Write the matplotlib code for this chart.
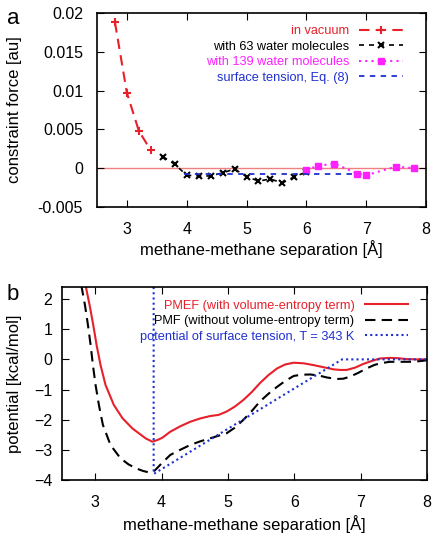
import numpy as np
import matplotlib
matplotlib.use("Agg")
import matplotlib.pyplot as plt

plt.rcParams['font.family'] = ['Liberation Sans', 'DejaVu Sans']

## panel a : constraint forces
vac_x = [2.8, 3.0, 3.2, 3.4]
vac_y = [0.0188, 0.0097, 0.0048, 0.0023]

w63_x = [3.6, 3.8, 4.0, 4.2, 4.4, 4.6, 4.8, 5.0, 5.2, 5.4, 5.6, 5.8, 6.0]
w63_y = [0.0015, 0.0005, -0.0009, -0.001, -0.001, -0.0006, -0.0001, -0.0011,
         -0.00165, -0.0014, -0.0019, -0.0011, -0.0005]

w139_x = [6.0, 6.2, 6.47, 6.85, 7.0, 7.5, 7.8]
w139_y = [-0.0002, 0.0003, 0.0006, -0.0007, -0.0009, 0.0002, 0.0]

surf_x = [3.95, 6.85]
surf_y = [-0.0008, -0.0008]

## panel b : potentials
pmef_x = [2.854, 2.915, 2.97, 3.02, 3.08, 3.155, 3.28, 3.41, 3.56, 3.76, 3.86, 3.93,
          4.01, 4.13, 4.28, 4.43, 4.58, 4.73, 4.86, 4.98, 5.1, 5.23, 5.36, 5.48, 5.61,
          5.74, 5.86, 5.99, 6.14, 6.29, 6.44, 6.59, 6.69, 6.79, 6.92, 7.04, 7.17, 7.29,
          7.44, 7.56, 7.69, 7.85, 8.0]
pmef_y = [2.46, 1.80, 1.14, 0.48, -0.19, -0.85, -1.51, -1.95, -2.29, -2.62, -2.73, -2.68,
          -2.6, -2.40, -2.22, -2.07, -1.96, -1.88, -1.84, -1.73, -1.57, -1.35, -1.08, -0.79, -0.52,
          -0.30, -0.17, -0.11, -0.13, -0.19, -0.26, -0.33, -0.35, -0.35, -0.27, -0.15, -0.05, 0.03,
          0.05, 0.04, 0.01, 0.0, 0.0]

pmf_x = [2.79, 2.845, 2.89, 2.93, 2.965, 3.005, 3.055, 3.115, 3.23, 3.38, 3.5, 3.61, 3.72,
         3.83, 3.9, 4.0, 4.13, 4.28, 4.43, 4.58, 4.73, 4.86, 4.98, 5.1, 5.23, 5.36, 5.48,
         5.61, 5.74, 5.86, 5.99, 6.1, 6.24, 6.38, 6.49, 6.64, 6.74, 6.84, 6.96, 7.09, 7.2,
         7.29, 7.44, 7.6, 7.74, 7.88, 8.0]
pmf_y = [2.46, 1.80, 1.14, 0.48, -0.19, -0.85, -1.51, -2.17, -2.84, -3.28, -3.48, -3.61, -3.7,
         -3.76, -3.68, -3.45, -3.17, -3.0, -2.84, -2.72, -2.62, -2.53, -2.45, -2.27, -2.01, -1.71, -1.40,
         -1.14, -0.91, -0.72, -0.55, -0.51, -0.5, -0.54, -0.6, -0.65, -0.64, -0.57, -0.45, -0.30, -0.19,
         -0.13, -0.08, -0.08, -0.08, -0.06, -0.03]

st_x = [3.88, 3.88, 6.72, 8.0]
st_y = [2.4, -3.8, 0.0, 0.0]

fig = plt.figure(figsize=(4.34, 5.36), dpi=100)

def style_ax(ax, ypad):
    ax.tick_params(direction='in', top=True, right=True, length=5, labelsize=11.5)
    ax.tick_params(axis='x', pad=10.5)
    ax.tick_params(axis='y', pad=ypad)
    for s in ax.spines.values():
        s.set_linewidth(1.2)

##---------------- panel a
ax1 = fig.add_axes([0.2235, 0.6138, 0.758, 0.362])
ax1.axhline(0, color='#f08080', lw=1.0, zorder=1)
ax1.plot(vac_x, vac_y, color='#e8202a', ls=(0, (5, 3)), lw=1.5, marker='+', ms=6, mew=1.5,
         label='in vacuum')
ax1.plot(w63_x, w63_y, color='black', ls=(0, (3, 3)), lw=1.2, marker='x', ms=5, mew=1.5,
         label='with 63 water molecules')
ax1.plot(w139_x, w139_y, color='#ff20ff', ls=(0, (1, 2)), lw=1.5, marker='s', ms=5,
         label='with 139 water molecules')
ax1.plot(surf_x, surf_y, color='#2030d0', ls=(0, (3, 3)), lw=1.3,
         label='surface tension, Eq. (8)')
ax1.set_xlim(2.5, 8)
ax1.set_ylim(-0.005, 0.02)
ax1.set_xticks([3, 4, 5, 6, 7, 8])
ax1.set_yticks([-0.005, 0, 0.005, 0.01, 0.015, 0.02])
ax1.set_yticklabels(['-0.005', '0', '0.005', '0.01', '0.015', '0.02'])
style_ax(ax1, 10)
ax1.set_xlabel('methane-methane separation [Å]', fontsize=12)
ax1.set_ylabel('constraint force [au]', fontsize=12)
ax1.xaxis.set_label_coords(0.5, -0.17)
ax1.yaxis.set_label_coords(-0.228, 0.5)
ax1.legend(loc='upper right', bbox_to_anchor=(0.93, 0.938), frameon=False, markerfirst=False,
           fontsize=9.2, handlelength=3.4, handletextpad=0.8, labelspacing=0.28,
           borderaxespad=0, borderpad=0, labelcolor='linecolor')
fig.text(0.015, 0.956, 'a', fontsize=16)

##---------------- panel b
ax2 = fig.add_axes([0.143, 0.1045, 0.841, 0.36])
ax2.plot(pmef_x, pmef_y, color='#e8202a', lw=1.5,
         label='PMEF (with volume-entropy term)')
ax2.plot(pmf_x, pmf_y, color='black', ls=(0, (5, 3)), lw=1.5,
         label='PMF (without volume-entropy term)')
ax2.plot(st_x, st_y, color='#2030d0', ls=(0, (1, 1.5)), lw=1.5,
         label='potential of surface tension, T = 343 K')
ax2.set_xlim(2.5, 8)
ax2.set_ylim(-4, 2.4)
ax2.set_xticks([3, 4, 5, 6, 7, 8])
ax2.set_yticks([-4, -3, -2, -1, 0, 1, 2])
style_ax(ax2, 7)
ax2.set_xlabel('methane-methane separation [Å]', fontsize=12)
ax2.set_ylabel('potential [kcal/mol]', fontsize=12)
ax2.xaxis.set_label_coords(0.5, -0.18)
ax2.yaxis.set_label_coords(-0.11, 0.5)
ax2.legend(loc='upper right', bbox_to_anchor=(0.948, 0.935), frameon=False, markerfirst=False,
           fontsize=9.2, handlelength=3.4, handletextpad=0.8, labelspacing=0.28,
           borderaxespad=0, borderpad=0, labelcolor='linecolor')
fig.text(0.015, 0.44, 'b', fontsize=16)

fig.savefig('out.png', dpi=100)
